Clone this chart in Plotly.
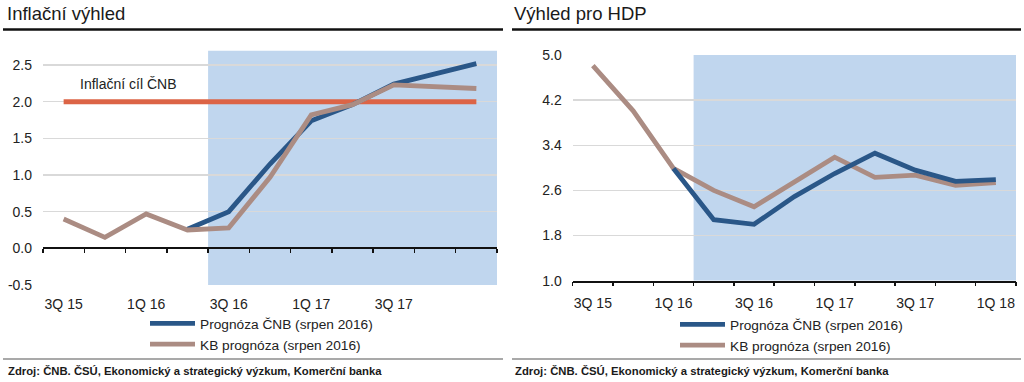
import plotly.graph_objects as go

# ---------------- data ----------------
quarters = ["3Q 15", "4Q 15", "1Q 16", "2Q 16", "3Q 16", "4Q 16",
            "1Q 17", "2Q 17", "3Q 17", "4Q 17", "1Q 18"]
label_idx_left = [0, 2, 4, 6, 8]
label_idx_right = [0, 2, 4, 6, 8, 10]

infl_cnb = [None, None, None, 0.26, 0.50, 1.15, 1.74, 1.96, 2.24, 2.38, 2.52]
infl_kb = [0.40, 0.15, 0.47, 0.25, 0.28, 0.97, 1.82, 1.96, 2.23, 2.20, 2.18]
infl_target = [2.0] * 11

gdp_cnb = [None, None, 2.99, 2.08, 2.00, 2.49, 2.90, 3.26, 2.96, 2.76, 2.79]
gdp_kb = [4.81, 4.01, 2.99, 2.60, 2.31, 2.74, 3.19, 2.83, 2.87, 2.69, 2.74]

infl_ticks = [-0.5, 0.0, 0.5, 1.0, 1.5, 2.0, 2.5]
gdp_ticks = [1.0, 1.8, 2.6, 3.4, 4.2, 5.0]

infl_forecast_start = 3.5   # shaded forecast window (category boundary)
gdp_forecast_start = 2.5

# ---------------- style ----------------
W, H = 1024, 382
FONT = "Liberation Sans, Arial, sans-serif"
BLUE = "#2A5788"
BROWN = "#AB8C83"
ORANGE = "#DC6446"
SHADE = "#C0D6EE"
GRID = "#D9D9D9"
TXT = "#222222"
LW = 4.8


def px_x(p):
    return p / W


def px_y(p):
    return (H - p) / H


x_idx = list(range(len(quarters)))

fig = go.Figure()

# left chart traces
fig.add_trace(go.Scatter(x=x_idx, y=infl_target, mode="lines", xaxis="x", yaxis="y",
                         line=dict(color=ORANGE, width=5), showlegend=False, hoverinfo="skip"))
fig.add_trace(go.Scatter(x=x_idx, y=infl_cnb, mode="lines", xaxis="x", yaxis="y",
                         name="Prognóza ČNB (srpen 2016)", legend="legend",
                         line=dict(color=BLUE, width=LW)))
fig.add_trace(go.Scatter(x=x_idx, y=infl_kb, mode="lines", xaxis="x", yaxis="y",
                         name="KB prognóza (srpen 2016)", legend="legend",
                         line=dict(color=BROWN, width=LW)))

# right chart traces
fig.add_trace(go.Scatter(x=x_idx, y=gdp_kb, mode="lines", xaxis="x2", yaxis="y2",
                         name="KB prognóza (srpen 2016)", legend="legend2", legendrank=2,
                         line=dict(color=BROWN, width=LW)))
fig.add_trace(go.Scatter(x=x_idx, y=gdp_cnb, mode="lines", xaxis="x2", yaxis="y2",
                         name="Prognóza ČNB (srpen 2016)", legend="legend2", legendrank=1,
                         line=dict(color=BLUE, width=LW)))

tickfont = dict(family=FONT, size=14, color=TXT)

L_dom_x = [px_x(43), px_x(497)]
L_dom_y = [px_y(285), px_y(50.4)]
R_dom_x = [px_x(572.7), px_x(1016)]
R_dom_y = [px_y(280.7), px_y(55)]

fig.update_layout(
    width=W, height=H,
    margin=dict(l=0, r=0, t=0, b=0, autoexpand=False),
    paper_bgcolor="white", plot_bgcolor="rgba(0,0,0,0)",
    font=dict(family=FONT, color=TXT),
    xaxis=dict(domain=L_dom_x, anchor="y", range=[-0.5, 10.5], automargin=False,
               tickvals=label_idx_left, ticktext=[quarters[i] for i in label_idx_left],
               showgrid=False, zeroline=False, showline=False, ticks="",
               tickfont=tickfont, ticklabelstandoff=9),
    yaxis=dict(domain=L_dom_y, anchor="x", range=[-0.5, 2.7], automargin=False,
               tickvals=infl_ticks, ticktext=[f"{v:.1f}" for v in infl_ticks],
               showgrid=True, gridcolor=GRID, gridwidth=1.5, zeroline=False, showline=False,
               ticks="", tickfont=tickfont, ticklabelstandoff=10),
    # axis line with boundary ticks at y = 0
    xaxis3=dict(domain=L_dom_x, anchor="free", overlaying="x", matches="x", automargin=False,
                position=px_y(247.5), range=[-0.5, 10.5],
                tickvals=[i - 0.5 for i in range(len(quarters) + 1)],
                showticklabels=False, showgrid=False, zeroline=False,
                showline=True, linecolor="#111", linewidth=2,
                ticks="outside", ticklen=4, tickwidth=1.5, tickcolor="#111"),
    xaxis2=dict(domain=R_dom_x, anchor="y2", range=[-0.5, 10.5], automargin=False,
                tickvals=label_idx_right, ticktext=[quarters[i] for i in label_idx_right],
                showgrid=False, zeroline=False, showline=True, linecolor="#111", linewidth=2,
                ticks="", tickfont=tickfont, ticklabelstandoff=8),
    yaxis2=dict(domain=R_dom_y, anchor="x2", range=[1.0, 5.0], automargin=False,
                tickvals=gdp_ticks, ticktext=[f"{v:.1f}" for v in gdp_ticks],
                showgrid=True, gridcolor=GRID, gridwidth=1.5, zeroline=False, showline=False,
                ticks="", tickfont=tickfont, ticklabelstandoff=10),
    xaxis4=dict(domain=R_dom_x, anchor="free", overlaying="x2", matches="x2", automargin=False,
                position=R_dom_y[0], range=[-0.5, 10.5],
                tickvals=[i - 0.5 for i in range(len(quarters) + 1)],
                showticklabels=False, showgrid=False, zeroline=False,
                showline=False,
                ticks="outside", ticklen=4, tickwidth=1.5, tickcolor="#111"),
    legend=dict(x=px_x(145), y=px_y(308), xanchor="left", yanchor="top",
                bgcolor="rgba(0,0,0,0)", font=dict(family=FONT, size=13.7, color=TXT),
                itemwidth=45, tracegroupgap=0, traceorder="normal"),
    legend2=dict(x=px_x(675), y=px_y(309), xanchor="left", yanchor="top",
                 bgcolor="rgba(0,0,0,0)", font=dict(family=FONT, size=13.7, color=TXT),
                 itemwidth=45, tracegroupgap=0, traceorder="normal"),
    hovermode=False,
)

# dummy traces so the overlay axes render
fig.add_trace(go.Scatter(x=[None], y=[None], xaxis="x3", yaxis="y", showlegend=False))
fig.add_trace(go.Scatter(x=[None], y=[None], xaxis="x4", yaxis="y2", showlegend=False))

shapes = [
    # forecast shading
    dict(type="rect", xref="x", yref="y", x0=infl_forecast_start, x1=10.5, y0=-0.5, y1=2.7,
         fillcolor=SHADE, line=dict(width=0), layer="below"),
    dict(type="rect", xref="x2", yref="y2", x0=gdp_forecast_start, x1=10.5, y0=1.0, y1=5.0,
         fillcolor=SHADE, line=dict(width=0), layer="below"),
    # title rules
    dict(type="line", xref="paper", yref="paper", x0=px_x(3), x1=px_x(503),
         y0=px_y(29.5), y1=px_y(29.5), line=dict(color="#111", width=2.5)),
    dict(type="line", xref="paper", yref="paper", x0=px_x(512), x1=px_x(1021),
         y0=px_y(29.5), y1=px_y(29.5), line=dict(color="#111", width=2.5)),
    # source separators
    dict(type="line", xref="paper", yref="paper", x0=px_x(3), x1=px_x(503),
         y0=px_y(359), y1=px_y(359), line=dict(color="#8C8C8C", width=1.5)),
    dict(type="line", xref="paper", yref="paper", x0=px_x(512), x1=px_x(1021),
         y0=px_y(359), y1=px_y(359), line=dict(color="#8C8C8C", width=1.5)),
]
fig.update_layout(shapes=shapes)

SRC = "Zdroj: ČNB. ČSÚ, Ekonomický a strategický výzkum, Komerční banka"
annotations = [
    dict(text="Inflační výhled", xref="paper", yref="paper", x=px_x(5), y=px_y(14),
         xanchor="left", yanchor="middle", showarrow=False,
         font=dict(family=FONT, size=18.5, color="#1A1A1A")),
    dict(text="Výhled pro HDP", xref="paper", yref="paper", x=px_x(512), y=px_y(14),
         xanchor="left", yanchor="middle", showarrow=False,
         font=dict(family=FONT, size=18.5, color="#1A1A1A")),
    dict(text="Inflační cíl ČNB", xref="x", yref="y", x=1.55, y=2.24,
         xanchor="center", yanchor="middle", showarrow=False,
         font=dict(family=FONT, size=14, color=TXT)),
    dict(text=SRC, xref="paper", yref="paper", x=px_x(6), y=px_y(370.5),
         xanchor="left", yanchor="middle", showarrow=False,
         font=dict(family=FONT, size=11.3, color="#1A1A1A", weight="bold")),
    dict(text=SRC, xref="paper", yref="paper", x=px_x(513), y=px_y(370.5),
         xanchor="left", yanchor="middle", showarrow=False,
         font=dict(family=FONT, size=11.3, color="#1A1A1A", weight="bold")),
]
fig.update_layout(annotations=annotations)

fig.write_html(
    "out.html",
    config={"displayModeBar": False, "staticPlot": True},
    post_script=(
        "document.documentElement.style.margin='0px';"
        "document.body.style.margin='0px';document.body.style.padding='0px';"
        "var gd=document.getElementById('{plot_id}');"
        "gd.style.position='fixed';gd.style.top='0px';gd.style.left='0px';"
        "document.documentElement.style.overflow='hidden';"
    ),
)
